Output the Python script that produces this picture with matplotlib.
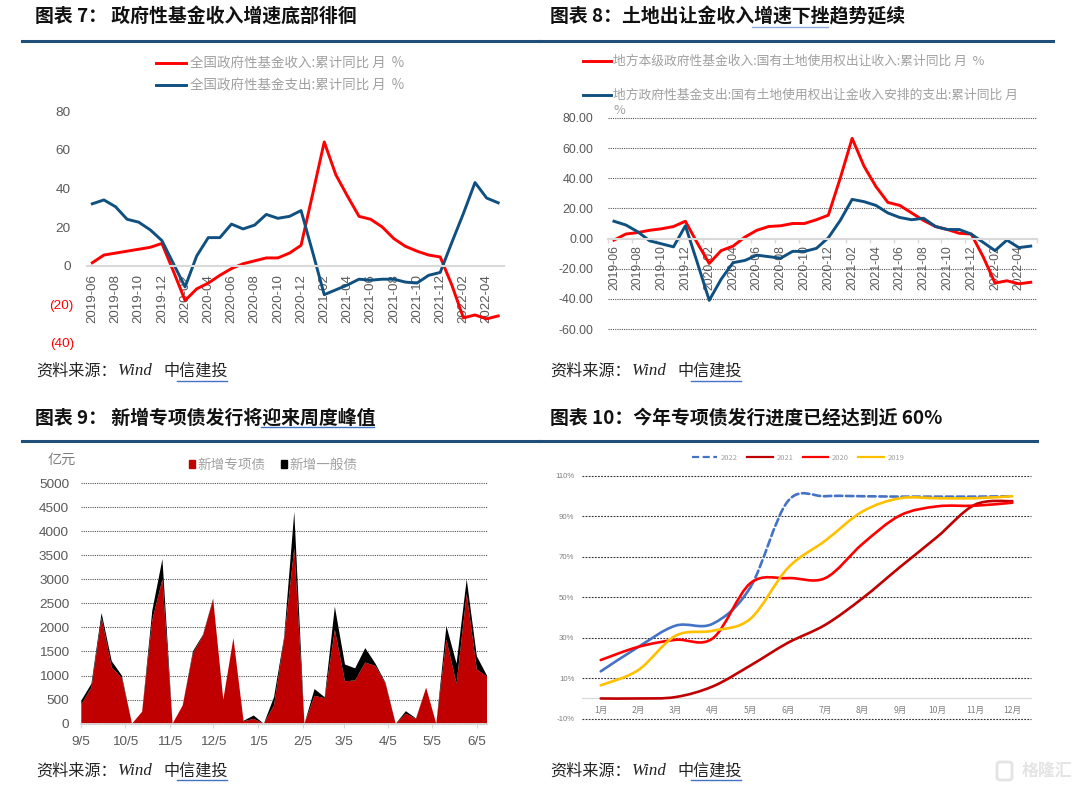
import matplotlib
matplotlib.use("Agg")
import matplotlib.pyplot as plt
import numpy as np
import pandas as pd
from matplotlib.lines import Line2D
from matplotlib.patches import FancyBboxPatch, PathPatch, Rectangle
from matplotlib.path import Path

W, H = 1080, 791
CJK = ["Noto Sans CJK SC", "DejaVu Sans"]
NUM = ["Liberation Sans", "Noto Sans CJK SC"]
plt.rcParams["font.family"] = NUM

NAVY = "#1F4E79"
LINE_BLUE = "#0F5080"
RED = "#FF0000"
GREY = "#595959"
LEGEND_GREY = "#a0a0a0"

# chart 7
months = [f"{y}-{m:02d}" for y, m in
          [(2019, m) for m in range(6, 13)] + [(2020, m) for m in range(1, 13)]
          + [(2021, m) for m in range(1, 13)] + [(2022, m) for m in range(1, 6)]]
fund_income = [1.5, 5.5, 6.5, 7.5, 8.5, 9.5, 11.5, -3, -18, -12, -9, -5, -1.5, 1, 2.5, 4, 4, 6.5, 10.5,
               37, 64, 47, 36, 25.5, 24, 20, 14, 10, 7.5, 5.5, 4.5, -10, -27, -25.5, -27.5, -26]
fund_spend = [32, 34, 30.5, 24, 22.5, 18.5, 13, 1, -11, 5, 14.5, 14.5, 21.5, 19, 21, 26.5, 24.5, 25.5, 28.5,
              7, -15, -12.5, -10, -7, -7.5, -7, -7, -8.5, -9, -5, -3.5, 12, 27, 43, 35, 32.5]
yticks_7 = [-40, -20, 0, 20, 40, 60, 80]

# chart 8
land_income = [-1, 3, 4, 5.5, 6.5, 8, 11.5, -3, -16.5, -8, -5, 1, 5.5, 8, 8.5, 10, 10, 12.5, 15.5,
               40, 66.5, 48, 34.5, 24, 22, 17, 12, 8, 6, 3.5, 3, -12, -29.5, -28, -30, -29]
land_spend = [11.5, 9, 4.5, -1.5, -3.5, -5.5, 8.5, -16, -41, -27, -16, -14.5, -11, -12, -13, -8.5, -8.5, -6.5, 0.5,
              12, 26, 24.5, 22, 17, 14, 12.5, 13.5, 8, 6, 6, 3, -2.5, -8, -1, -6, -5]
yticks_8 = [-60, -40, -20, 0, 20, 40, 60, 80]

# chart 9
weeks = pd.date_range("2021-09-05", periods=41, freq="7D")
special_bond = [400, 750, 2200, 1170, 950, 0, 250, 2150, 3000, 0, 380, 1450, 1830, 2580, 500, 1780, 50, 100, 0, 380,
                1750, 3650, 0, 580, 530, 1950, 880, 900, 1270, 1200, 830, 0, 210, 100, 750, 0, 1750, 830, 2700, 1130, 980]
general_bond = [80, 80, 100, 130, 50, 0, 0, 200, 420, 0, 0, 50, 20, 20, 0, 0, 10, 70, 0, 170,
                50, 750, 0, 140, 20, 480, 350, 250, 300, 50, 20, 0, 50, 10, 0, 0, 280, 420, 300, 270, 20]
tick_dates_9 = pd.to_datetime(["2021-09-05", "2021-10-05", "2021-11-05", "2021-12-05", "2022-01-05",
                               "2022-02-05", "2022-03-05", "2022-04-05", "2022-05-05", "2022-06-05"])
tick_labels_9 = ["9/5", "10/5", "11/5", "12/5", "1/5", "2/5", "3/5", "4/5", "5/5", "6/5"]

# chart 10
month_names = [f"{m}月" for m in range(1, 13)]
progress_2022 = [13.4, 25.4, 36, 37, 55, 97.5, 100, 100, 99.8, 99.8, 99.8, 100]
progress_2021 = [0, 0, 0.7, 6, 16.3, 27.5, 36.4, 49.6, 65, 80, 95.8, 97.6]
progress_2020 = [19, 25.5, 29, 29.8, 57, 59.5, 59.5, 76.5, 90.5, 95, 95.3, 96.8]
progress_2019 = [6.5, 14, 31, 33.5, 39.4, 64.5, 78, 92.5, 99, 99, 99, 100]
yticks_10 = [-10, 10, 30, 50, 70, 90, 110]


def axes_px(x0, x1, top, bottom):
    ax = fig.add_axes([x0 / W, 1 - bottom / H, (x1 - x0) / W, (bottom - top) / H])
    ax.patch.set_alpha(0)
    for s in ax.spines.values():
        s.set_visible(False)
    ax.set_axisbelow(True)
    return ax


def fig_text(x, y, s, **kw):
    return fig.text(x / W, 1 - y / H, s, **kw)


def fig_line(x0, x1, y, color, lw):
    fig.add_artist(Line2D([x0 / W, x1 / W], [1 - y / H, 1 - y / H], color=color, lw=lw))


def header(x, y, title, rule_x0, rule_x1, rule_y):
    fig_text(x, y, title, family=CJK, fontsize=13.6, fontweight="bold", color="#111111", va="center")
    fig_line(rule_x0, rule_x1, rule_y, NAVY, 2.2)


def source(x, y):
    fig_text(x, y, "资料来源：", family=CJK, fontsize=11.6, color="#222222", va="center")
    fig_text(x + 82, y, "Wind", family=["Liberation Serif"], style="italic", fontsize=12.2, color="#222222", va="center")
    fig_text(x + 127, y, "中信建投", family=CJK, fontsize=11.6, color="#222222", va="center")
    fig_line(x + 141, x + 191, y + 9.5, "#4472C4", 1)


def legend_at(ax, handles, labels, x, y, **kw):
    leg = ax.legend(handles, labels, loc="upper left", bbox_to_anchor=(x / W, 1 - y / H),
                    bbox_transform=fig.transFigure, frameon=False, borderpad=0, borderaxespad=0,
                    labelcolor=LEGEND_GREY, **kw)
    for t in leg.get_texts():
        t.set_family(CJK)
    return leg


def month_axis(ax, size, pad, boundary_ticks=False):
    ax.spines["bottom"].set_visible(True)
    ax.spines["bottom"].set_position(("data", 0))
    ax.spines["bottom"].set_color("#D9D9D9")
    ax.spines["bottom"].set_linewidth(1.5)
    ax.set_xlim(-0.5, 35.5)
    ax.set_xticks(range(0, 36, 2))
    ax.set_xticklabels(months[::2], rotation=90, fontsize=size, color=GREY)
    ax.tick_params(axis="x", length=0, pad=pad)
    if boundary_ticks:
        ax.set_xticks(np.arange(-0.5, 36, 2), minor=True)
        ax.tick_params(axis="x", which="minor", length=3, color="#D9D9D9", width=1)


def smooth_verts(x, y):
    # excel style smoothed line: one bezier per month
    pts = np.column_stack([x, y])
    verts = [pts[0]]
    for i in range(len(pts) - 1):
        prev = pts[max(i - 1, 0)]
        nxt = pts[min(i + 2, len(pts) - 1)]
        verts += [pts[i] + (pts[i + 1] - prev) / 6, pts[i + 1] - (nxt - pts[i]) / 6, pts[i + 1]]
    return np.array(verts)


def smooth_line(ax, verts, color, lw, **kw):
    codes = [Path.MOVETO] + [Path.CURVE4] * (len(verts) - 1)
    ax.add_patch(PathPatch(Path(verts, codes), fill=False, edgecolor=color, lw=lw, capstyle="round", **kw))


fig = plt.figure(figsize=(W / 100, H / 100), dpi=100)

# chart 7
header(35, 17, "图表 7： 政府性基金收入增速底部徘徊", 22, 540, 40.5)
ax = axes_px(86.5, 504, 111, 343)
x = np.arange(36)
l1, = ax.plot(x, fund_income, color=RED, lw=2.1, solid_joinstyle="round")
l2, = ax.plot(x, fund_spend, color=LINE_BLUE, lw=2.1, solid_joinstyle="round")
ax.set_ylim(-40, 80)
ax.set_yticks(yticks_7)
ax.set_yticklabels([f"({-v})" if v < 0 else str(v) for v in yticks_7], fontsize=9.7, color=GREY)
ax.tick_params(axis="y", length=0)
for tick, v in zip(ax.yaxis.get_major_ticks(), yticks_7):
    tick.set_pad(9 if v < 0 else 11.5)
    if v < 0:
        tick.label1.set_color(RED)
month_axis(ax, 9.5, 6)
legend_at(ax, [l1, l2], ["全国政府性基金收入:累计同比 月  %", "全国政府性基金支出:累计同比 月  %"], 156, 56.5,
          fontsize=9.7, handlelength=2.2, handletextpad=0.35, labelspacing=0.62)
source(36, 371)

# chart 8
header(550, 17, "图表 8：土地出让金收入增速下挫趋势延续", 540, 1053, 40.5)
fig_line(752, 828, 26.5, "#8FAADC", 1)
ax = axes_px(608, 1036.7, 118, 329)
ax.plot(x, land_income, color=RED, lw=2.1, solid_joinstyle="round")
ax.plot(x, land_spend, color=LINE_BLUE, lw=2.1, solid_joinstyle="round")
ax.set_ylim(-60, 80)
ax.set_yticks(yticks_8)
ax.set_yticklabels([f"{v:.2f}" for v in yticks_8], fontsize=8.9, color=GREY)
ax.tick_params(axis="y", length=0, pad=10.5)
for v in yticks_8:
    if v != 0:
        ax.axhline(v, color="#555555", lw=0.8, ls=(0, (1, 1)), zorder=1, clip_on=False)
month_axis(ax, 8.8, 5, boundary_ticks=True)
legend_at(ax, ax.get_lines()[:2],
          ["地方本级政府性基金收入:国有土地使用权出让收入:累计同比 月  %",
           "地方政府性基金支出:国有土地使用权出让金收入安排的支出:累计同比 月"], 583, 55,
          fontsize=9.2, handlelength=2.2, handletextpad=0.15, labelspacing=1.65)
fig_text(613.5, 110.5, "%", family=CJK, fontsize=9.2, color=LEGEND_GREY, va="center")
source(550, 371)

# chart 9
header(35, 418, "图表 9： 新增专项债发行将迎来周度峰值", 22, 540, 441)
fig_line(261, 374, 427, "#4472C4", 1)
ax = axes_px(81.3, 487, 483, 723.7)
polys = ax.stackplot(weeks, special_bond, general_bond, colors=["#C00000", "#000000"], lw=0)
ax.set_xlim(weeks[0], weeks[-1])
ax.set_ylim(0, 5000)
ax.set_yticks(range(0, 5001, 500))
ax.set_yticklabels([str(v) for v in range(0, 5001, 500)], fontsize=9.7, color=GREY)
ax.tick_params(axis="y", length=0, pad=8.8)
ax.grid(axis="y", color="#555555", lw=0.8, ls=(0, (1, 1)), clip_on=False)
ax.spines["bottom"].set_visible(True)
ax.spines["bottom"].set_color("#D9D9D9")
ax.spines["bottom"].set_linewidth(1.3)
ax.set_xticks(tick_dates_9)
ax.set_xticklabels(tick_labels_9, fontsize=9.7, color=GREY)
ax.tick_params(axis="x", length=3, color="#D9D9D9", pad=5.5)
fig_text(61.7, 460, "亿元", family=CJK, fontsize=10.2, color="#7f7f7f", ha="center", va="center")
legend_at(ax, [Rectangle((0, 0), 1, 1, color="#C00000"), Rectangle((0, 0), 1, 1, color="#000000")],
          ["新增专项债", "新增一般债"], 189, 458, ncols=2, fontsize=9.8,
          handlelength=0.45, handleheight=0.45, handletextpad=0.2, columnspacing=1.07)
source(36, 770.7)

# chart 10
header(550, 418, "图表 10：今年专项债发行进度已经达到近 60%", 540, 1036.7, 441)
ax = axes_px(582, 1031, 476, 718.7)
ax.set_xlim(0.5, 12.5)
ax.set_ylim(-10, 110)
ax.set_yticks(yticks_10)
ax.set_yticklabels([f"{v}%" for v in yticks_10], fontsize=5.6, color="#7f7f7f")
ax.tick_params(axis="y", length=0, pad=5.5)
ax.grid(axis="y", color="#333333", lw=0.8, ls=(0, (1.6, 1.2)), clip_on=False)
ax.spines["bottom"].set_visible(True)
ax.spines["bottom"].set_position(("data", 0))
ax.spines["bottom"].set_color("#D9D9D9")
ax.spines["bottom"].set_linewidth(0.8)
mx = np.arange(1, 13)
ax.set_xticks(mx)
ax.set_xticklabels(month_names, family=CJK, fontsize=6.2, color="#7f7f7f")
ax.tick_params(axis="x", length=0, pad=5.5)

v2022 = smooth_verts(mx, progress_2022)
smooth_line(ax, v2022[:13], "#4472C4", 1.9, zorder=3)
smooth_line(ax, v2022[12:], "#4472C4", 1.9, ls=(0, (2.8, 1.4)), zorder=3)
smooth_line(ax, smooth_verts(mx, progress_2021), "#C00000", 1.9, zorder=3)
smooth_line(ax, smooth_verts(mx, progress_2020), "#FF0000", 1.9, zorder=3)
smooth_line(ax, smooth_verts(mx, progress_2019), "#FFC000", 1.9, zorder=3)
handles = [Line2D([], [], color="#4472C4", lw=1.6, ls=(0, (3.2, 1.6))),
           Line2D([], [], color="#C00000", lw=1.6),
           Line2D([], [], color="#FF0000", lw=1.6),
           Line2D([], [], color="#FFC000", lw=1.6)]
legend_at(ax, handles, ["2022", "2021", "2020", "2019"], 691.7, 454, ncols=4, fontsize=5.4,
          handlelength=3.4, handletextpad=0.45, columnspacing=1.3)
source(550, 770.7)

# watermark
fig_text(1046.5, 772, "格隆汇", family=CJK, fontsize=12.2, color="#e4e4e4", ha="center", va="center", fontweight="bold")
fig.add_artist(FancyBboxPatch((997 / W, 1 - 780 / H), 15 / W, 18 / H, transform=fig.transFigure, fill=False,
                              boxstyle="round,pad=0,rounding_size=0.003", edgecolor="#e4e4e4", lw=2))

fig.savefig("out.png", dpi=100)
